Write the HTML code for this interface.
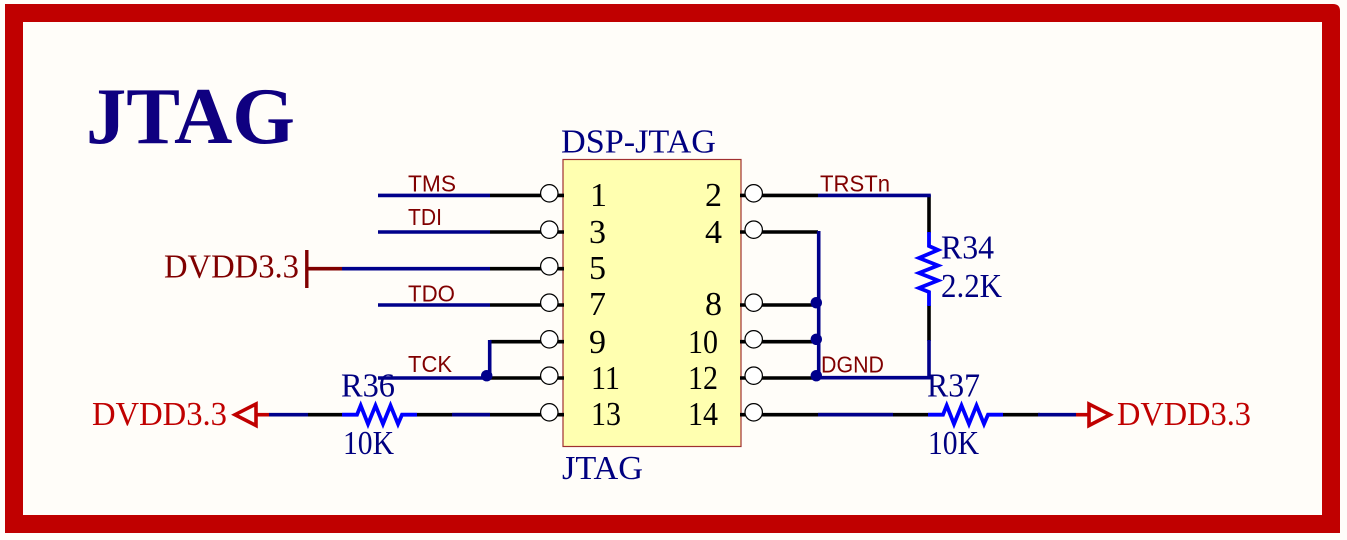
<!DOCTYPE html>
<html>
<head>
<meta charset="utf-8">
<style>
html,body{margin:0;padding:0;background:#fffdf9;width:1347px;height:540px;overflow:hidden}
svg{display:block}
.s{font-family:"Liberation Serif",serif;font-size:34px}
.a{font-family:"Liberation Sans",sans-serif;font-size:23.5px;fill:#800000}
.n{fill:#000080}
.k{fill:#000}
line,polyline,polygon{stroke-linecap:butt}
.b{stroke:#000;stroke-width:3.6}
.v{stroke:#00008b;stroke-width:3.6}
.u{stroke:#0000ff;stroke-width:3.8;fill:none}
circle.p{fill:#fff;stroke:#000;stroke-width:1.2}
circle.d{fill:#00008b}
</style>
</head>
<body>
<svg width="1347" height="540" viewBox="0 0 1347 540" xmlns="http://www.w3.org/2000/svg">
<rect x="0" y="0" width="1347" height="540" fill="#fffdf9"/>
<path fill-rule="evenodd" fill="#c00000" d="M5 4H1333Q1340 4 1340 11V533H5ZM23 22V515H1322V22Z"/>
<text x="86" y="143" textLength="209" lengthAdjust="spacingAndGlyphs" style="font-family:'Liberation Serif',serif;font-weight:bold;font-size:81px;fill:#0f0080">JTAG</text>

<rect x="563" y="159.500" width="178" height="287" fill="#ffffb0" stroke="#a03030" stroke-width="1.2"/>

<!-- left stubs -->
<g class="b">
<line x1="490" y1="195.400" x2="564" y2="195.400"/>
<line x1="490" y1="232" x2="564" y2="232"/>
<line x1="490" y1="268.700" x2="564" y2="268.700"/>
<line x1="490" y1="305" x2="564" y2="305"/>
<line x1="490" y1="341.700" x2="564" y2="341.700"/>
<line x1="490" y1="378" x2="564" y2="378"/>
<line x1="417" y1="414.700" x2="564" y2="414.700"/>
<line x1="308" y1="414.700" x2="342" y2="414.700"/>
</g>
<g class="v">
<line x1="378" y1="195.400" x2="490" y2="195.400"/>
<line x1="378" y1="232" x2="490" y2="232"/>
<line x1="342" y1="268.700" x2="490" y2="268.700"/>
<line x1="378" y1="305" x2="490" y2="305"/>
<line x1="378" y1="378" x2="490" y2="378"/>
<line x1="489.700" y1="340" x2="489.700" y2="378"/>
<line x1="452" y1="414.700" x2="490" y2="414.700"/>
<line x1="269" y1="414.700" x2="308" y2="414.700"/>
</g>
<!-- right stubs -->
<g class="b">
<line x1="740" y1="195.400" x2="818" y2="195.400"/>
<line x1="740" y1="232" x2="818" y2="232"/>
<line x1="740" y1="305" x2="818" y2="305"/>
<line x1="740" y1="341.700" x2="818" y2="341.700"/>
<line x1="740" y1="378" x2="818" y2="378"/>
<line x1="740" y1="414.700" x2="928" y2="414.700"/>
<line x1="1003" y1="414.700" x2="1040" y2="414.700"/>
<line x1="929" y1="195" x2="929" y2="233"/>
<line x1="929" y1="305" x2="929" y2="341"/>
</g>
<g class="v">
<line x1="818" y1="195.400" x2="930.800" y2="195.400"/>
<line x1="818.700" y1="231" x2="818.700" y2="379"/>
<line x1="818" y1="377.700" x2="930.800" y2="377.700"/>
<line x1="929" y1="340" x2="929" y2="379"/>
<line x1="818" y1="414.700" x2="893" y2="414.700"/>
<line x1="1038" y1="414.700" x2="1076" y2="414.700"/>
</g>

<!-- pins -->
<g>
<circle class="p" cx="549.300" cy="193.300" r="8.700"/>
<circle class="p" cx="549.300" cy="229.700" r="8.700"/>
<circle class="p" cx="549.300" cy="266.300" r="8.700"/>
<circle class="p" cx="549.300" cy="302.700" r="8.700"/>
<circle class="p" cx="549.300" cy="339.300" r="8.700"/>
<circle class="p" cx="549.300" cy="375.700" r="8.700"/>
<circle class="p" cx="549.300" cy="412.300" r="8.700"/>
<circle class="p" cx="753.700" cy="193.300" r="8.700"/>
<circle class="p" cx="753.700" cy="229.700" r="8.700"/>
<circle class="p" cx="753.700" cy="302.700" r="8.700"/>
<circle class="p" cx="753.700" cy="339.300" r="8.700"/>
<circle class="p" cx="753.700" cy="375.700" r="8.700"/>
<circle class="p" cx="753.700" cy="412.300" r="8.700"/>
</g>

<!-- junctions -->
<circle class="d" cx="486.700" cy="375.700" r="5.700"/>
<circle class="d" cx="816.300" cy="302.700" r="5.700"/>
<circle class="d" cx="816.300" cy="339.300" r="5.700"/>
<circle class="d" cx="816.300" cy="375.700" r="5.700"/>

<!-- resistors -->
<polyline class="u" points="342,414.700 357,414.700 360.700,405.500 368,424 375.500,405.500 383,424 390.500,405.500 398,424 402,414.700 417,414.700"/>
<polyline class="u" points="928,414.700 943,414.700 946.700,405.500 954,424 961.500,405.500 969,424 976.500,405.500 984,424 988,414.700 1003,414.700"/>
<polyline class="u" points="929,232 929,246 938,250 919,258 938,265.500 919,273 938,280.500 919,288 929,292 929,306"/>

<!-- power ports -->
<line x1="307" y1="268.700" x2="342" y2="268.700" stroke="#800000" stroke-width="3.600"/>
<line x1="306.800" y1="250" x2="306.800" y2="288" stroke="#800000" stroke-width="3.400" stroke-linecap="round"/>
<line x1="256" y1="414.700" x2="269" y2="414.700" stroke="#c00000" stroke-width="3.600"/>
<polygon points="256,404 256,425.500 235,414.700" fill="none" stroke="#c00000" stroke-width="3.600"/>
<line x1="1076" y1="414.700" x2="1089" y2="414.700" stroke="#c00000" stroke-width="3.600"/>
<polygon points="1089,404 1089,425.500 1110,414.700" fill="none" stroke="#c00000" stroke-width="3.600"/>

<!-- text -->
<text class="s n" x="561" y="152.700" textLength="155" lengthAdjust="spacingAndGlyphs">DSP-JTAG</text>
<text class="s n" x="562" y="479" textLength="81" lengthAdjust="spacingAndGlyphs">JTAG</text>
<text class="s" x="164" y="277.300" textLength="135" lengthAdjust="spacingAndGlyphs" fill="#800000">DVDD3.3</text>
<text class="s" x="92" y="425" textLength="135" lengthAdjust="spacingAndGlyphs" fill="#c00000">DVDD3.3</text>
<text class="s" x="1117" y="425" textLength="134" lengthAdjust="spacingAndGlyphs" fill="#c00000">DVDD3.3</text>

<text class="s n" x="341" y="396.700" textLength="54" lengthAdjust="spacingAndGlyphs">R36</text>
<text class="s n" x="343" y="454" textLength="51" lengthAdjust="spacingAndGlyphs">10K</text>
<text class="s n" x="927" y="396.700" textLength="53" lengthAdjust="spacingAndGlyphs">R37</text>
<text class="s n" x="928" y="454" textLength="51" lengthAdjust="spacingAndGlyphs">10K</text>
<text class="s n" x="941" y="258.500" textLength="53" lengthAdjust="spacingAndGlyphs">R34</text>
<text class="s n" x="941" y="297" textLength="61" lengthAdjust="spacingAndGlyphs">2.2K</text>

<text class="a" x="408" y="191.300" textLength="48" lengthAdjust="spacingAndGlyphs">TMS</text>
<text class="a" x="408" y="225" textLength="34" lengthAdjust="spacingAndGlyphs">TDI</text>
<text class="a" x="408" y="301.700" textLength="47" lengthAdjust="spacingAndGlyphs">TDO</text>
<text class="a" x="408" y="372" textLength="44" lengthAdjust="spacingAndGlyphs">TCK</text>
<text class="a" x="820" y="191.500" textLength="70" lengthAdjust="spacingAndGlyphs">TRSTn</text>
<text class="a" x="821" y="372.700" textLength="63" lengthAdjust="spacingAndGlyphs">DGND</text>

<g class="s k">
<text x="590" y="206">1</text>
<text x="589" y="243">3</text>
<text x="589" y="279">5</text>
<text x="589" y="315">7</text>
<text x="589" y="353">9</text>
<text x="591" y="389" textLength="29" lengthAdjust="spacingAndGlyphs">11</text>
<text x="591" y="425" textLength="30" lengthAdjust="spacingAndGlyphs">13</text>
<text x="705" y="206">2</text>
<text x="705" y="243">4</text>
<text x="705" y="315">8</text>
<text x="688" y="353" textLength="30" lengthAdjust="spacingAndGlyphs">10</text>
<text x="688" y="389" textLength="30" lengthAdjust="spacingAndGlyphs">12</text>
<text x="688" y="425" textLength="30" lengthAdjust="spacingAndGlyphs">14</text>
</g>
</svg>
</body>
</html>
